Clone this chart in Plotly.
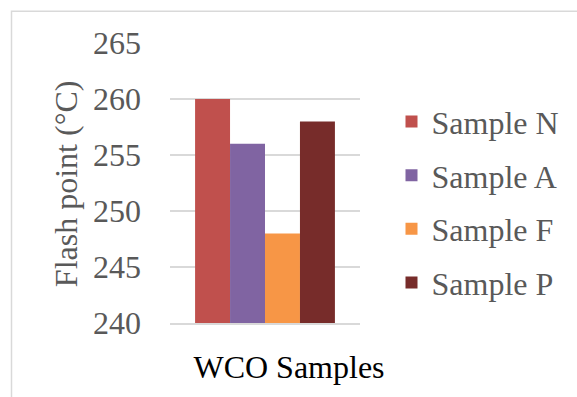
import plotly.graph_objects as go

# Flash point of waste cooking oil samples
category = ["WCO Samples"]
series_names = ["Sample N", "Sample A", "Sample F", "Sample P"]
flash_points = [260, 256, 248, 258]
colors = ["#C0504D", "#8064A2", "#F79646", "#772C2A"]
y_ticks = [240, 245, 250, 255, 260, 265]

W, H = 577, 397
L, R, T, B = 170, 214, 43, 71
pw, ph = W - L - R, H - T - B

def px_x(p):
    return (p - L) / pw

def px_y(p):
    return (H - B - p) / ph

FONT = "Liberation Serif"
GREY = "#595959"

fig = go.Figure()
for name, val, col in zip(series_names, flash_points, colors):
    fig.add_trace(go.Bar(x=category, y=[val], name=name, marker_color=col,
                         marker_line_width=0, legendgroup=name))

fig.update_layout(
    width=W, height=H,
    margin=dict(l=L, r=R, t=T, b=B, pad=0),
    paper_bgcolor="white", plot_bgcolor="white",
    barmode="group", bargap=0.264, bargroupgap=0,
    font=dict(family=FONT, size=32, color=GREY),
    showlegend=True,
    legend=dict(x=px_x(395), xanchor="left", y=px_y(204), yanchor="middle",
                font=dict(family=FONT, size=32, color=GREY),
                tracegroupgap=9, bgcolor="rgba(0,0,0,0)"),
    xaxis=dict(showgrid=False, showline=True, linecolor="#D9D9D9", linewidth=2,
               ticks="", tickfont=dict(family=FONT, size=32, color="#000000"),
               ticklabelshift=24, ticklabelstandoff=15),
    yaxis=dict(range=[240, 265], tickvals=y_ticks, showgrid=True,
               gridcolor="#D9D9D9", gridwidth=2, zeroline=False, showline=False,
               ticks="", ticklabelstandoff=28,
               tickfont=dict(family=FONT, size=32, color=GREY)),
    shapes=[dict(type="rect", xref="paper", yref="paper",
                 x0=px_x(9), x1=px_x(600), y0=px_y(420), y1=px_y(11),
                 line=dict(color="#D9D9D9", width=1.5), layer="below")],
    annotations=[dict(text="Flash point (°C)", textangle=-90, xref="paper", yref="paper",
                      x=px_x(65), y=px_y(185), xanchor="center", yanchor="middle",
                      showarrow=False, font=dict(family=FONT, size=32, color=GREY))],
)

fig.write_html("out.html")
